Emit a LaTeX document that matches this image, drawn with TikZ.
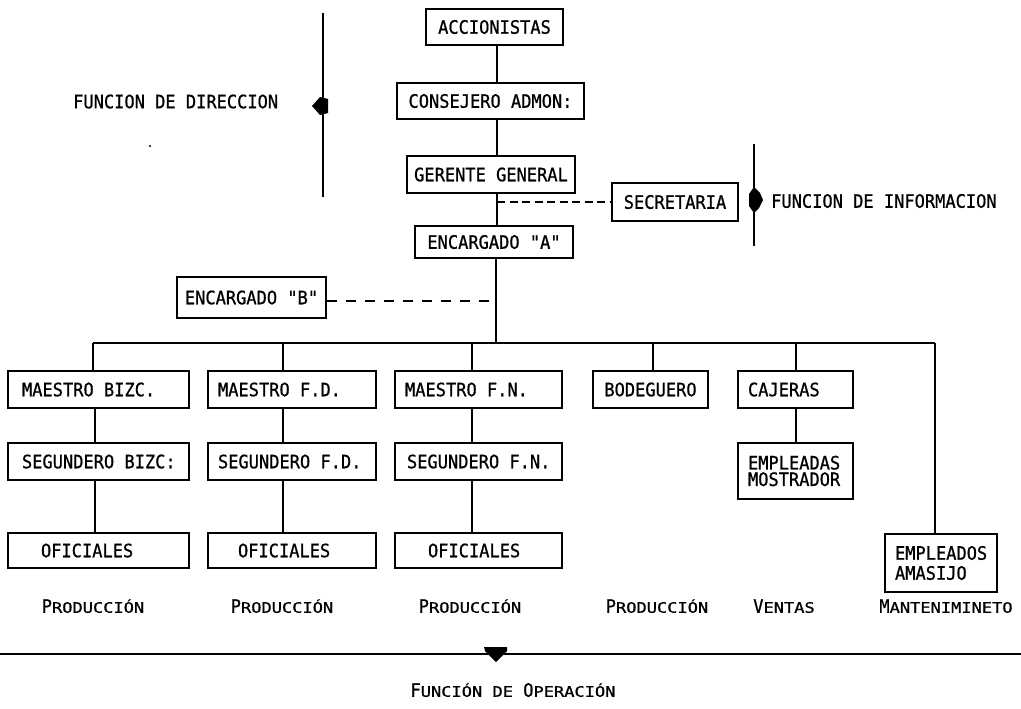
\documentclass[tikz,border=0pt]{standalone}
\usepackage{fontspec}
\usepackage{graphicx}
\newfontfamily\mono[FakeStretch=0.92,FakeBold=0.8]{DejaVu Sans Mono}
\setmainfont{DejaVu Sans Mono}
% left-aligned label of fixed width inside a box
\newcommand\lft[2]{\makebox[#1][l]{#2}}
% capital followed by reduced capitals
\newcommand\smcap[2]{#1\scalebox{1}[0.78]{#2}}
\begin{document}
\begin{tikzpicture}[x=1pt,y=-1pt,
  font=\fontsize{18.5}{21}\selectfont\mono,
  box/.style={draw, line width=1.5pt, inner ysep=0pt, text height=13.5pt, text depth=0pt},
  box2/.style={draw, line width=1.5pt, inner ysep=0pt, align=left},
  txt/.style={inner sep=0pt, text height=13.5pt, text depth=0pt},
  link/.style={line width=1.5pt},
  dashA/.style={line width=1.5pt, dash pattern=on 8pt off 4.5pt},
  dashB/.style={line width=1.5pt, dash pattern=on 10pt off 9pt},
  axis/.style={line width=2.6pt}]
\useasboundingbox (0,0) rectangle (1021,709);

% spine and column positions
\coordinate (spine) at (497,0);
\coordinate (c1) at (95,0);
\coordinate (c2) at (283,0);
\coordinate (c3) at (472,0);
\coordinate (c4) at (653,0);
\coordinate (c5) at (796,0);
\coordinate (c6) at (935,0);

% top of the hierarchy
\node[box, minimum width=137pt, minimum height=36pt] (acc) at (494.5,27) {ACCIONISTAS};
\node[box, minimum width=187pt, minimum height=36pt] (cons) at (490.5,101) {CONSEJERO ADMON:};
\node[box, minimum width=168pt, minimum height=37pt] (ger) at (491,174.5) {GERENTE GENERAL};
\node[box, minimum width=126pt, minimum height=38pt] (sec) at (675,202) {SECRETARIA};
\node[box, minimum width=158pt, minimum height=32pt] (encA) at (494,242) {ENCARGADO "A"};
\node[box, minimum width=149pt, minimum height=41pt] (encB) at (251.5,297.5) {ENCARGADO "B"};

% first row
\node[box, inner xsep=14pt, minimum height=37pt] (m1) at (98.5,389.5) {\lft{153pt}{MAESTRO BIZC.}};
\node[box, inner xsep=10pt, minimum height=37pt] (m2) at (292,389.5) {\lft{148pt}{MAESTRO F.D.}};
\node[box, inner xsep=10pt, minimum height=37pt] (m3) at (478.5,389.5) {\lft{147pt}{MAESTRO F.N.}};
\node[box, minimum width=115pt, minimum height=37pt] (bod) at (650.5,389.5) {BODEGUERO};
\node[box, inner xsep=10pt, minimum height=37pt] (caj) at (795.5,389.5) {\lft{95pt}{CAJERAS}};

% second row
\node[box, inner xsep=14pt, minimum height=37pt] (s1) at (98.5,461.5) {\lft{153pt}{SEGUNDERO BIZC:}};
\node[box, inner xsep=10pt, minimum height=37pt] (s2) at (292,461.5) {\lft{148pt}{SEGUNDERO F.D.}};
\node[box, inner xsep=12pt, minimum height=37pt] (s3) at (478.5,461.5) {\lft{143pt}{SEGUNDERO F.N.}};
\node[box2, inner xsep=10pt, minimum height=56pt, font=\fontsize{18.5}{16.5}\selectfont\mono] (emp) at (795.5,471)
  {\lft{95pt}{EMPLEADAS}\\\lft{95pt}{MOSTRADOR}};

% third row
\node[box, inner xsep=33pt, minimum height=35pt] (o1) at (98.5,550.5) {\lft{115pt}{OFICIALES}};
\node[box, inner xsep=30pt, minimum height=35pt] (o2) at (292,550.5) {\lft{108pt}{OFICIALES}};
\node[box, inner xsep=33pt, minimum height=35pt] (o3) at (478.5,550.5) {\lft{101pt}{OFICIALES}};
\node[box2, inner xsep=10pt, minimum height=58pt, font=\fontsize{18.5}{20}\selectfont\mono] (ama) at (941,563)
  {\lft{92pt}{EMPLEADOS}\\\lft{92pt}{AMASIJO}};

% main line of authority
\draw[link] (acc.south -| spine) -- (cons.north -| spine);
\draw[link] (cons.south -| spine) -- (ger.north -| spine);
\draw[link] (ger.south -| spine) -- (encA.north -| spine);
\coordinate (bus) at (496,343);
\draw[link] (encA.south -| bus) -- (bus);

% staff positions
\coordinate (dA) at (497,202);
\draw[dashA] (dA) -- (sec.west);
\coordinate (dB) at (496,301);
\draw[dashB] (encB.east |- dB) -- (dB);

% distribution bar and branches
\coordinate (busL) at (93,343);
\coordinate (busR) at (935,343);
\draw[link] (busL) -- (busR);
\draw[link] (busL) -- (m1.north -| busL);
\draw[link] (m1.south -| c1) -- (s1.north -| c1);
\draw[link] (s1.south -| c1) -- (o1.north -| c1);
\draw[link] (bus -| c2) -- (m2.north -| c2);
\draw[link] (m2.south -| c2) -- (s2.north -| c2);
\draw[link] (s2.south -| c2) -- (o2.north -| c2);
\draw[link] (bus -| c3) -- (m3.north -| c3);
\draw[link] (m3.south -| c3) -- (s3.north -| c3);
\draw[link] (s3.south -| c3) -- (o3.north -| c3);
\draw[link] (bus -| c4) -- (bod.north -| c4);
\draw[link] (bus -| c5) -- (caj.north -| c5);
\draw[link] (caj.south -| c5) -- (emp.north -| c5);
\draw[link] (busR) -- (ama.north -| busR);

% direction axis
\coordinate (dirT) at (323,13);
\coordinate (dirB) at (323,197);
\draw[axis] (dirT) -- (dirB);
\fill (312,106) -- (320,97) -- (328,99) -- (328,113) -- (320,115) -- cycle;
\node[txt, anchor=west] (dir) at (73,101.5) {FUNCION DE DIRECCION};
\fill (150,146) circle (1.2pt);

% information axis
\coordinate (infT) at (754,144);
\coordinate (infB) at (754,246);
\draw[axis] (infT) -- (infB);
\fill (754,187) -- (760,193) -- (763,200) -- (759,208) -- (754,213) -- (749,206) -- (749,194) -- cycle;
\node[txt, anchor=west] (inf) at (771,201) {FUNCION DE INFORMACION};

% operation axis
\node[txt] (p1) at (93,606) {\smcap{P}{RODUCCIÓN}};
\node[txt] (p2) at (282,606) {\smcap{P}{RODUCCIÓN}};
\node[txt] (p3) at (470,606) {\smcap{P}{RODUCCIÓN}};
\node[txt] (p4) at (657,606) {\smcap{P}{RODUCCIÓN}};
\node[txt] (ven) at (784,606) {\smcap{V}{ENTAS}};
\node[txt] (man) at (946,606) {\smcap{M}{ANTENIMINETO}};
\coordinate (opL) at (0,654);
\coordinate (opR) at (1021,654);
\draw[axis, line width=2pt] (opL) -- (opR);
\fill (484,647) -- (507,647) -- (507,651) -- (496,662) -- (485,651) -- cycle;
\node[txt] (op) at (513,690) {\smcap{F}{UNCIÓN} \smcap{}{DE} \smcap{O}{PERACIÓN}};
\end{tikzpicture}
\end{document}
